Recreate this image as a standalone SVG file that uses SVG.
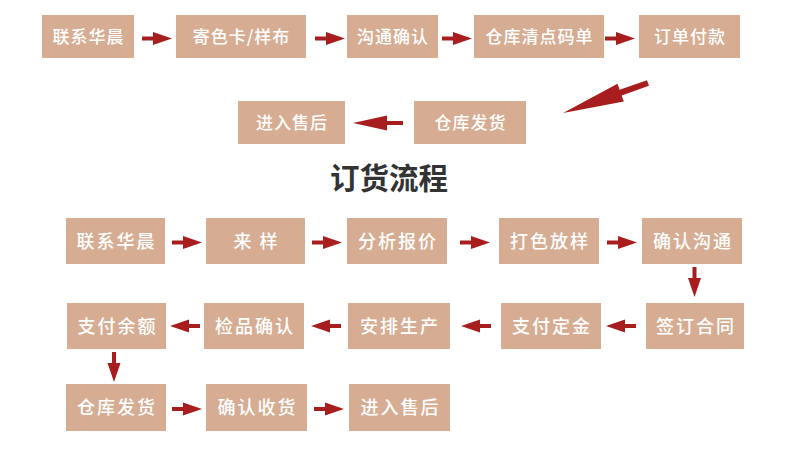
<svg xmlns="http://www.w3.org/2000/svg" xmlns:xlink="http://www.w3.org/1999/xlink" width="790" height="476" viewBox="0 0 790 476">
<style>
.box{fill:#d6ad93;}
.t{fill:#ffffff;font-family:"Noto Sans CJK SC","Noto Sans",sans-serif;font-weight:500;text-anchor:middle;}
.s{font-size:17px;letter-spacing:1px;}
.l{font-size:18px;letter-spacing:2px;}
.title{fill:#333333;font-family:"Noto Sans CJK SC","Noto Sans",sans-serif;font-weight:700;font-size:29.5px;text-anchor:middle;}
.arr{fill:#a81e1e;}
</style>
<defs>
<path id="arr" class="arr" d="M0,-2H11V-6.5L30,0L11,6.5V2H0Z"/>
<path id="arrBig" class="arr" d="M0,-2H16V-7.5L50,0L16,7.5V2H0Z"/>
</defs>
<rect width="790" height="476" fill="#ffffff"/>

<g id="connectors">
<use xlink:href="#arr" transform="translate(142,38.5)"/>
<use xlink:href="#arr" transform="translate(315,38.5)"/>
<use xlink:href="#arr" transform="translate(442,38.5)"/>
<use xlink:href="#arr" transform="translate(605,38.5)"/>
<path class="arr" transform="translate(648,83) rotate(160.6)" d="M0,-3H29V-9.5L90,0L29,9.5V3H0Z"/>
<use xlink:href="#arrBig" transform="translate(403,123) rotate(180)"/>
<use xlink:href="#arr" transform="translate(172,242.5)"/>
<use xlink:href="#arr" transform="translate(312,242.5)"/>
<use xlink:href="#arr" transform="translate(460,242.5)"/>
<use xlink:href="#arr" transform="translate(607,242.5)"/>
<use xlink:href="#arr" transform="translate(694.5,267) rotate(90)"/>
<use xlink:href="#arr" transform="translate(636,326) rotate(180)"/>
<use xlink:href="#arr" transform="translate(491,326) rotate(180)"/>
<use xlink:href="#arr" transform="translate(341,326) rotate(180)"/>
<use xlink:href="#arr" transform="translate(200,326) rotate(180)"/>
<use xlink:href="#arr" transform="translate(114,352) rotate(90)"/>
<use xlink:href="#arr" transform="translate(172,409)"/>
<use xlink:href="#arr" transform="translate(314,409)"/>
</g>

<g id="t1"><rect class="box" x="42" y="15" width="92" height="43"/><text class="t s" x="88.5" y="42.5">联系华晨</text></g>
<g id="t2"><rect class="box" x="176" y="15" width="130" height="43"/><text class="t s" x="241.5" y="42.5">寄色卡/样布</text></g>
<g id="t3"><rect class="box" x="347" y="15" width="91" height="43"/><text class="t s" x="393" y="42.5">沟通确认</text></g>
<g id="t4"><rect class="box" x="474" y="15" width="130" height="43"/><text class="t s" x="539.5" y="42.5">仓库清点码单</text></g>
<g id="t5"><rect class="box" x="639" y="15" width="101" height="43"/><text class="t s" x="690" y="42.5">订单付款</text></g>

<g id="m1"><rect class="box" x="238" y="101" width="107" height="43"/><text class="t s" x="292" y="128.5">进入售后</text></g>
<g id="m2"><rect class="box" x="414" y="101" width="112" height="43"/><text class="t s" x="470.5" y="128.5">仓库发货</text></g>

<text class="title" x="389" y="189">订货流程</text>

<g id="b1"><rect class="box" x="66" y="218" width="99" height="46"/><text class="t l" x="116.5" y="247.5">联系华晨</text></g>
<g id="b2"><rect class="box" x="206" y="218" width="99" height="46"/><text class="t l" x="256.5" y="247.5">来 样</text></g>
<g id="b3"><rect class="box" x="347" y="218" width="100" height="46"/><text class="t l" x="398" y="247.5">分析报价</text></g>
<g id="b4"><rect class="box" x="499" y="218" width="100" height="46"/><text class="t l" x="550" y="247.5">打色放样</text></g>
<g id="b5"><rect class="box" x="642" y="218" width="100" height="46"/><text class="t l" x="693" y="247.5">确认沟通</text></g>

<g id="b6"><rect class="box" x="646" y="303" width="98" height="46"/><text class="t l" x="696" y="332.5">签订合同</text></g>
<g id="b7"><rect class="box" x="501" y="303" width="100" height="46"/><text class="t l" x="552" y="332.5">支付定金</text></g>
<g id="b8"><rect class="box" x="348" y="303" width="102" height="46"/><text class="t l" x="400" y="332.5">安排生产</text></g>
<g id="b9"><rect class="box" x="204" y="303" width="100" height="46"/><text class="t l" x="255" y="332.5">检品确认</text></g>
<g id="b10"><rect class="box" x="67" y="303" width="99" height="46"/><text class="t l" x="117.5" y="332.5">支付余额</text></g>

<g id="b11"><rect class="box" x="66" y="384" width="100" height="47"/><text class="t l" x="117" y="414">仓库发货</text></g>
<g id="b12"><rect class="box" x="206" y="384" width="101" height="47"/><text class="t l" x="257.5" y="414">确认收货</text></g>
<g id="b13"><rect class="box" x="349" y="384" width="101" height="47"/><text class="t l" x="400.5" y="414">进入售后</text></g>
</svg>
